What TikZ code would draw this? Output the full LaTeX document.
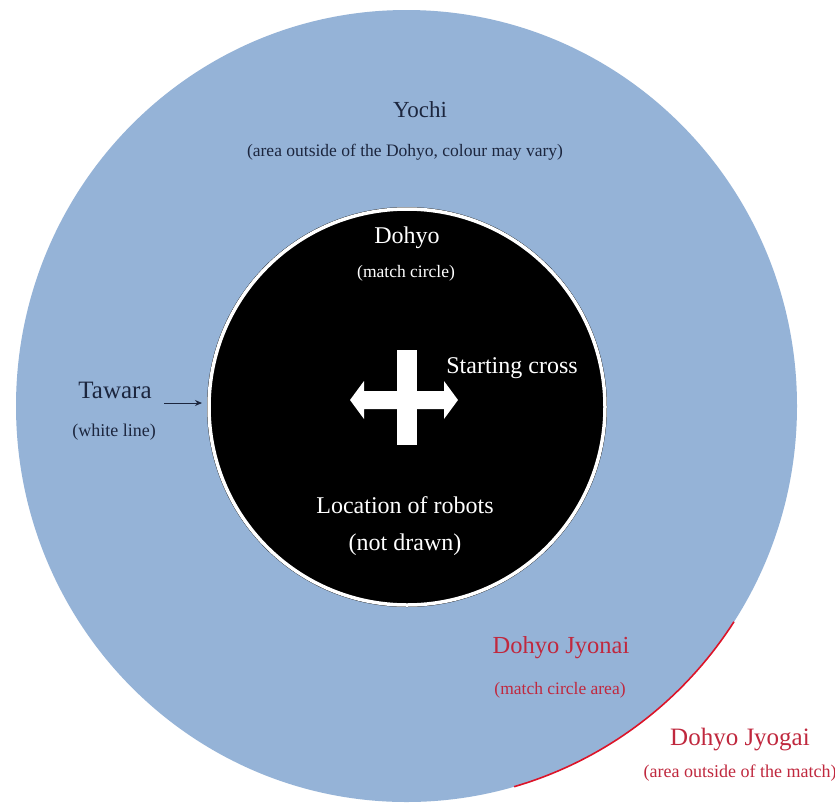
\documentclass[tikz,border=0pt]{standalone}
\usepackage{fontspec}
\setmainfont{Liberation Serif}
\usetikzlibrary{arrows.meta}
\definecolor{yochiblue}{RGB}{149,179,215}
\definecolor{navytxt}{RGB}{28,38,62}
\definecolor{redtxt}{RGB}{192,40,62}
\definecolor{redline}{RGB}{220,20,40}
\tikzset{
  lbl/.style={inner sep=0pt, anchor=center, text=navytxt},
  wlbl/.style={inner sep=0pt, anchor=center, text=white},
  rlbl/.style={inner sep=0pt, anchor=center, text=redtxt},
}
\newcommand{\fs}[1]{\fontsize{#1}{#1}\selectfont}
\begin{document}
\begin{tikzpicture}[x=1pt,y=-1pt]
\useasboundingbox (0,0) rectangle (835,804);
\fill[white] (0,0) rectangle (835,804);
% Yochi
\fill[yochiblue] (406.5,406) ellipse [x radius=390.5, y radius=396];
% red arc Dohyo Jyogai boundary
\draw[redline, line width=1.6pt] (406.5,406) ++(33:390.5 and 396) arc [start angle=33, end angle=74, x radius=390.5, y radius=396];
% Dohyo
\fill[black] (407,407) circle (200);
\draw[white, line width=3.5pt] (407,407) circle (198);
% starting cross
\fill[white] (397,350) rectangle (417,445);
\fill[white] (350,400) -- (364,381) -- (364,391) -- (444,391) -- (444,381) -- (458,400) -- (444,419) -- (444,409) -- (364,409) -- (364,419) -- cycle;
% texts
\node[lbl] (yochi) at (420,110) {\fs{23}Yochi};
\node[lbl] (yochisub) at (405,152) {\fs{17.5}(area outside of the Dohyo, colour may vary)};
\node[wlbl] (dohyo) at (407,238) {\fs{24}Dohyo};
\node[wlbl] (dohyosub) at (406,273) {\fs{17.5}(match circle)};
\node[wlbl] (cross) at (512,368) {\fs{24}Starting cross};
\node[lbl] (tawara) at (115,390) {\fs{25}Tawara};
\node[lbl] (tawarasub) at (114,432) {\fs{18}(white line)};
\coordinate (tw) at (202,403);
\draw[navytxt, line width=1pt, -{Stealth[length=7pt,width=6pt]}] (164,403) -- (tw);
\node[wlbl] (loc) at (405,505) {\fs{24}Location of robots};
\node[wlbl] (locsub) at (405,545) {\fs{24}(not drawn)};
\node[rlbl] (jyonai) at (561,648) {\fs{24.5}Dohyo Jyonai};
\node[rlbl] (jyonaisub) at (560,690) {\fs{17.5}(match circle area)};
\node[rlbl] (jyogai) at (740,740) {\fs{25}Dohyo Jyogai};
\node[rlbl] (jyogaisub) at (740,773) {\fs{18}(area outside of the match)};
\end{tikzpicture}
\end{document}
